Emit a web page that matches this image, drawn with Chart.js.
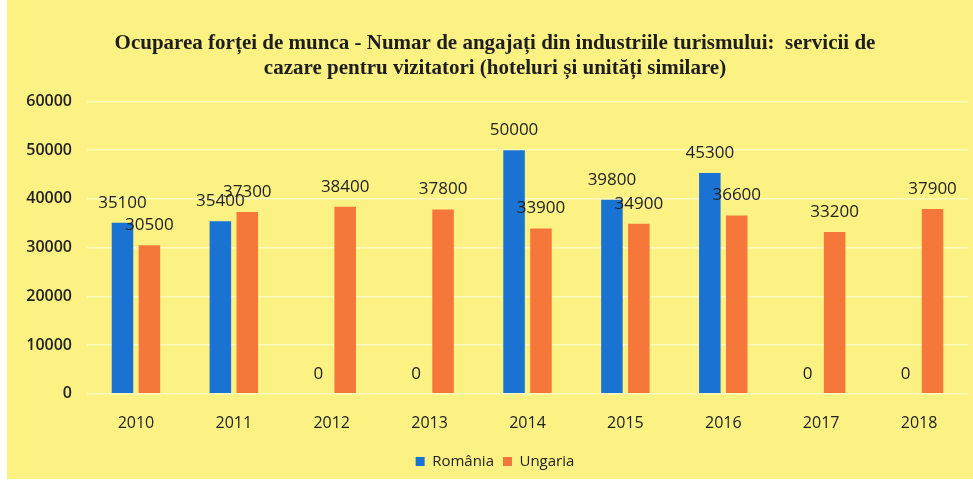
<!DOCTYPE html>
<html>
<head>
<meta charset="utf-8">
<script src="https://cdn.jsdelivr.net/npm/chart.js@4.4.1/dist/chart.umd.min.js"></script>
<style>
  html, body { margin: 0; padding: 0; background: #ffffff; }
  #wrap { position: absolute; left: 7px; top: 0; width: 966px; height: 479px; background: #fcf283; }
</style>
</head>
<body>
<div id="wrap"><canvas id="c" width="966" height="479"></canvas></div>
<script>
// ani
var years = ['2010', '2011', '2012', '2013', '2014', '2015', '2016', '2017', '2018'];
// numar de angajati
var romania = [35100, 35400, 0, 0, 50000, 39800, 45300, 0, 0];
var ungaria = [30500, 37300, 38400, 37800, 33900, 34900, 36600, 33200, 37900];
var yTicks = [0, 10000, 20000, 30000, 40000, 50000, 60000];

// etichete deasupra barelor
var valueLabels = {
    id: 'valueLabels',
    afterDatasetsDraw: function (chart) {
        var ctx = chart.ctx;
        ctx.save();
        ctx.font = '17px "Open Sans", sans-serif';
        ctx.fillStyle = '#222222';
        ctx.textAlign = 'center';
        ctx.textBaseline = 'middle';
        chart.data.datasets.forEach(function (ds, i) {
            chart.getDatasetMeta(i).data.forEach(function (bar, j) {
                ctx.fillText(String(ds.data[j]), bar.x, bar.y - 20);
            });
        });
        ctx.restore();
    }
};

var ctx = document.getElementById('c').getContext('2d');
var myChart = new Chart(ctx, {
    type: 'bar',
    data: {
        labels: years,
        datasets: [{
            label: 'România',
            data: romania,
            backgroundColor: '#1a72d2',
            categoryPercentage: 0.55,
            barPercentage: 0.8
        }, {
            label: 'Ungaria',
            data: ungaria,
            backgroundColor: '#f5773a',
            categoryPercentage: 0.55,
            barPercentage: 0.8
        }]
    },
    options: {
        responsive: false,
        animation: false,
        layout: { padding: { left: 15, right: 5, top: 25, bottom: 0 } },
        plugins: {
            title: {
                display: true,
                text: ['Ocuparea forței de munca - Numar de angajați din industriile turismului:  servicii de',
                       'cazare pentru vizitatori (hoteluri și unități similare)'],
                font: { family: '"Liberation Serif", serif', size: 21, weight: 'bold' },
                color: '#1e1e1e',
                lineHeight: 1.1,
                padding: { top: 6, bottom: 20 }
            },
            legend: {
                position: 'bottom',
                labels: {
                    usePointStyle: true,
                    pointStyle: 'rect',
                    boxWidth: 9,
                    boxHeight: 9,
                    color: '#222222',
                    font: { family: '"Open Sans", sans-serif', size: 15 },
                    padding: 9
                }
            },
            tooltip: { enabled: false }
        },
        scales: {
            x: {
                grid: { display: false },
                border: { display: false },
                ticks: {
                    color: '#222222',
                    font: { family: '"Open Sans", sans-serif', size: 16 },
                    padding: 12
                }
            },
            y: {
                min: 0,
                max: 60000,
                afterBuildTicks: function (axis) {
                    axis.ticks = yTicks.map(function (v) { return { value: v }; });
                },
                afterFit: function (axis) { axis.width = 65; },
                grid: { color: 'rgba(255,255,255,0.5)', lineWidth: 1.5, drawTicks: false },
                border: { display: false },
                ticks: {
                    color: '#222222',
                    font: { family: '"Open Sans", sans-serif', size: 16, weight: '600' },
                    padding: 15,
                    callback: function (v) { return String(v); }
                }
            }
        }
    },
    plugins: [valueLabels]
});
</script>
</body>
</html>
